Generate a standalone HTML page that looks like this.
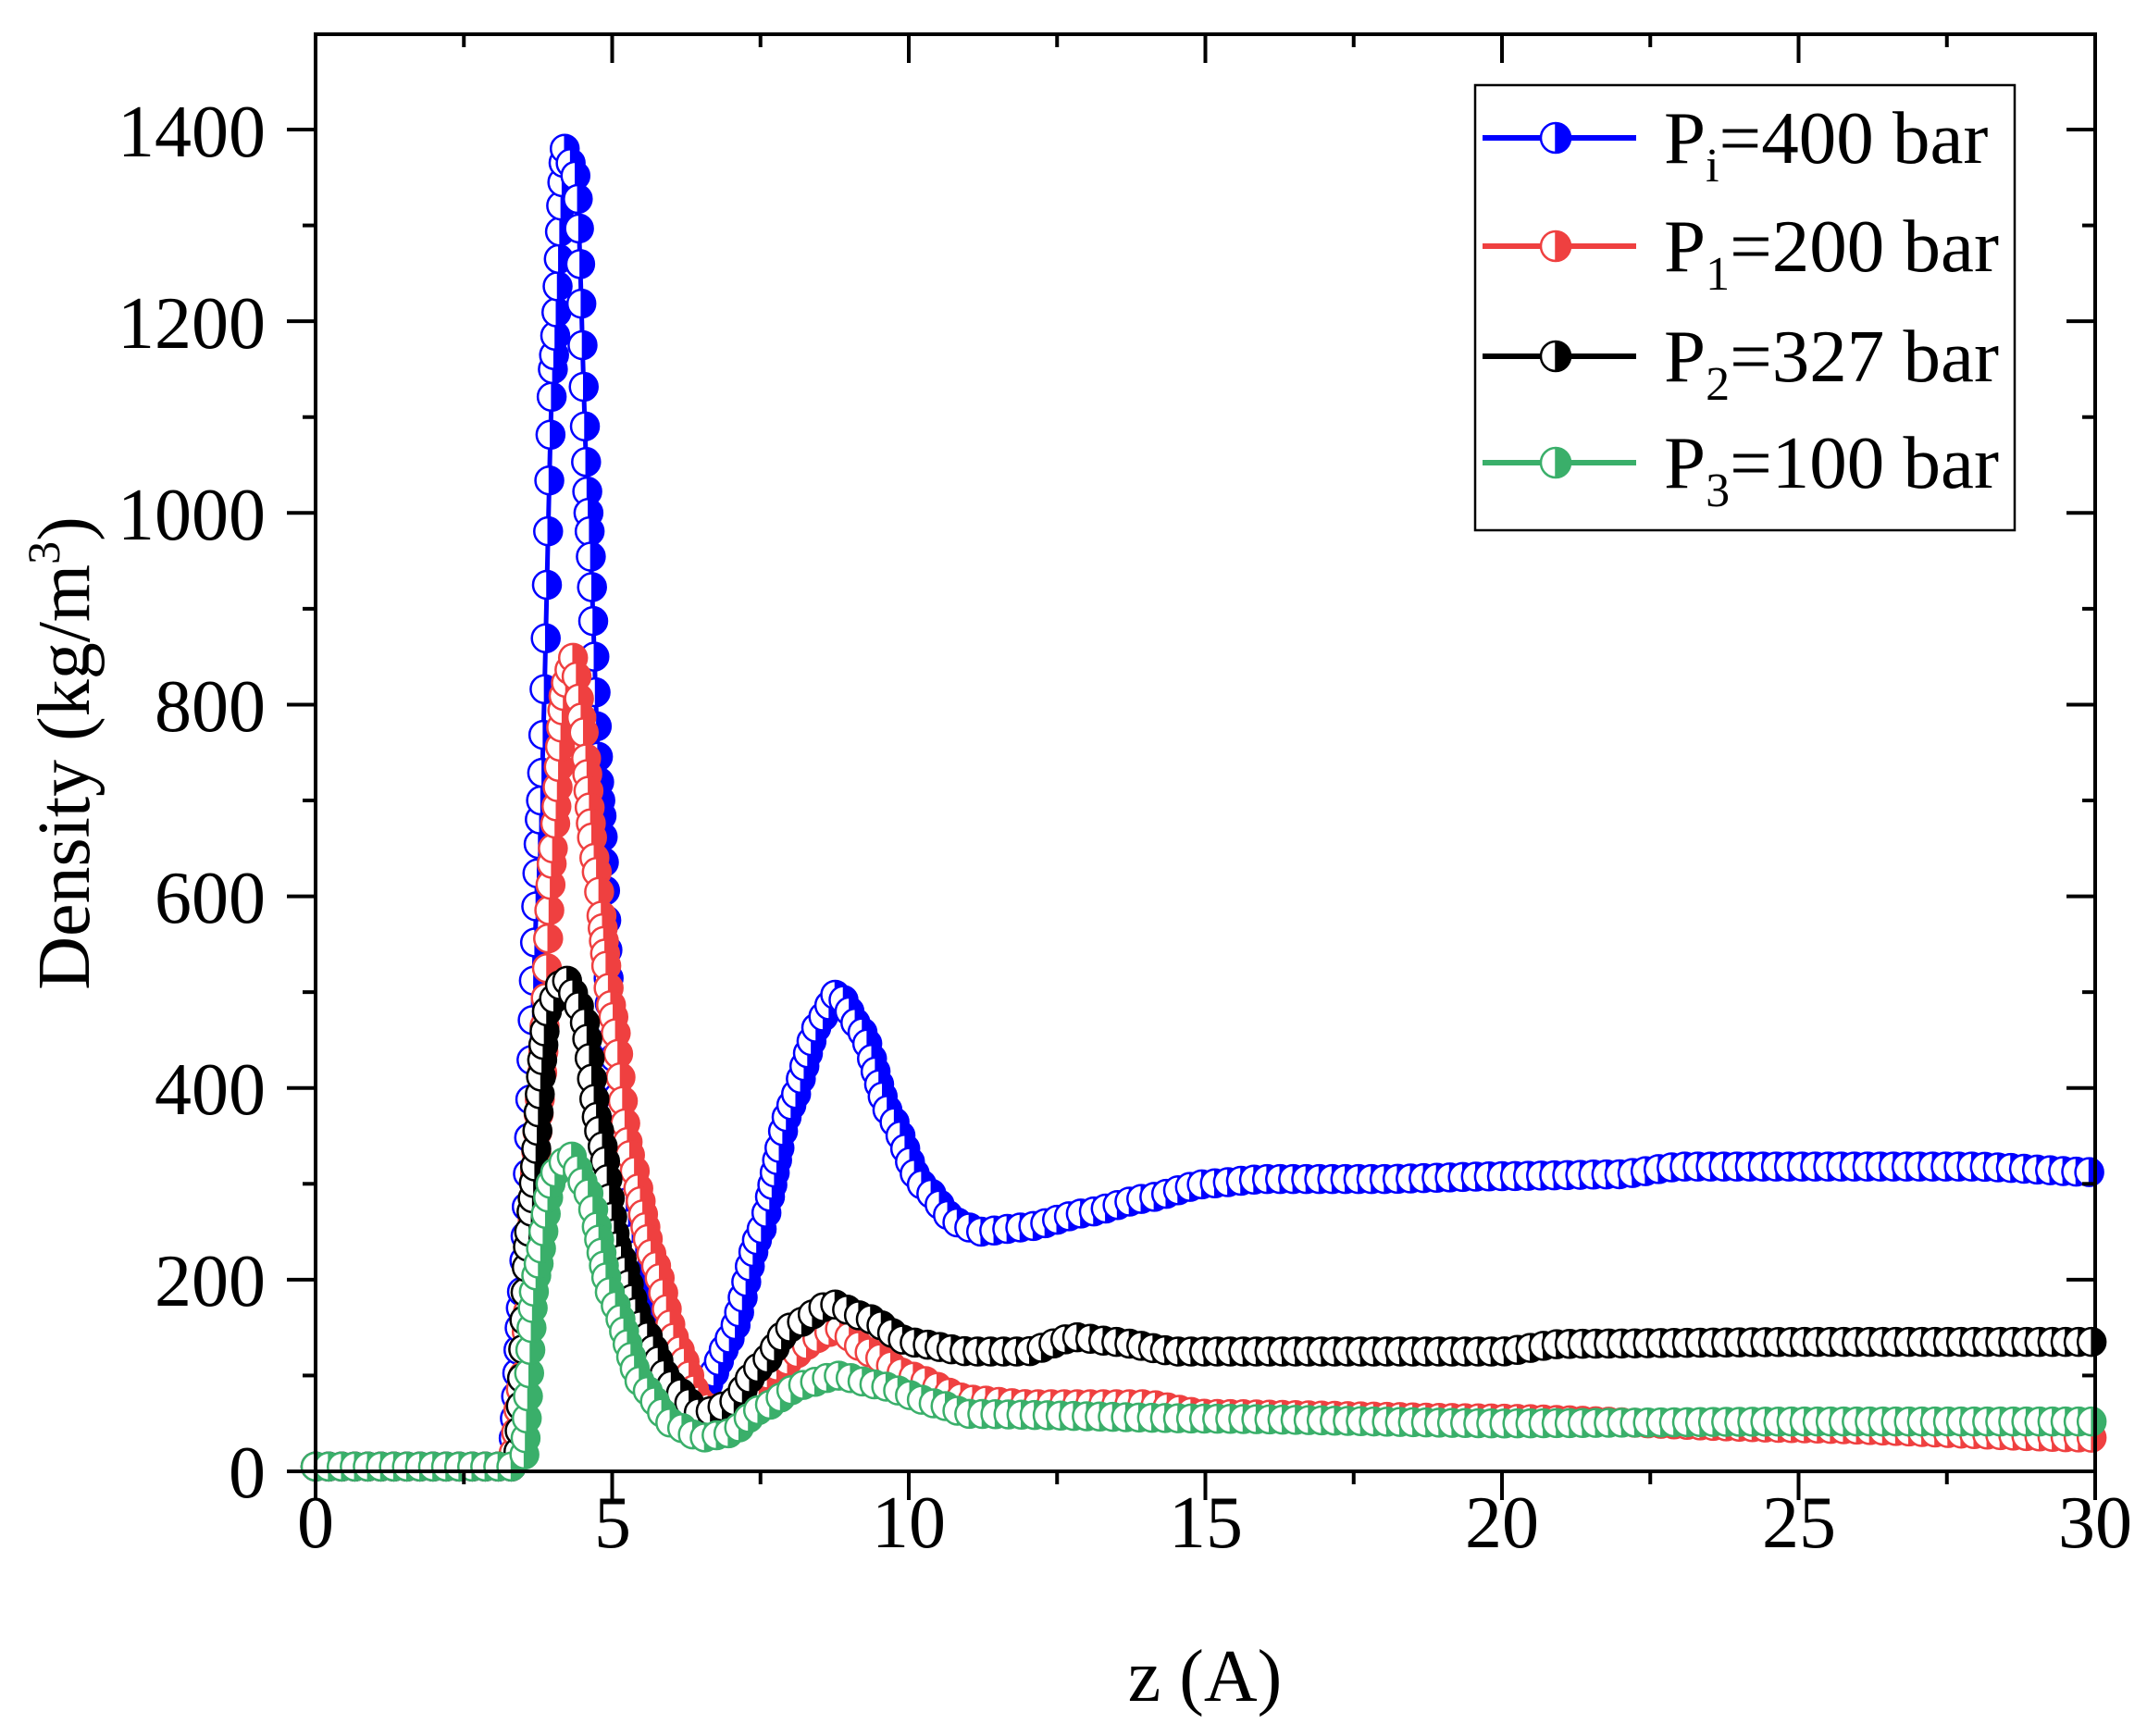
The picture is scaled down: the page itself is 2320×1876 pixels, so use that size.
<!DOCTYPE html>
<html><head><meta charset="utf-8"><style>
html,body{margin:0;padding:0;background:#fff;}
svg{display:block;}
text{font-family:"Liberation Serif",serif;fill:#000;}
</style></head><body>
<svg id="s" width="2320" height="1876" viewBox="0 0 2320 1876" xmlns="http://www.w3.org/2000/svg">
<g id="data"></g>
<rect x="341" y="37" width="1923" height="1553" fill="none" stroke="#000" stroke-width="4"/>
<g id="ticks" stroke="#000" stroke-width="4"></g>
<g font-size="80" text-anchor="end">
<text x="287" y="1618">0</text><text x="287" y="1411">200</text><text x="287" y="1204">400</text>
<text x="287" y="997">600</text><text x="287" y="790">800</text><text x="287" y="583">1000</text>
<text x="287" y="376">1200</text><text x="287" y="169">1400</text>
</g>
<g font-size="80" text-anchor="middle">
<text x="341" y="1672">0</text><text x="662" y="1672">5</text><text x="982" y="1672">10</text>
<text x="1303" y="1672">15</text><text x="1623" y="1672">20</text><text x="1944" y="1672">25</text><text x="2264" y="1672">30</text>
</g>
<text x="1302" y="1838" font-size="80" text-anchor="middle">z (A)</text>
<text transform="translate(96,814) rotate(-90)" font-size="80" text-anchor="middle">Density (kg/m<tspan font-size="50" dy="-32">3</tspan><tspan dy="32">)</tspan></text>
<rect x="1594" y="92" width="583" height="481" fill="#fff" stroke="#000" stroke-width="2.5"/>
<g id="leg"></g>
<g font-size="81">
<text x="1798" y="176">P<tspan font-size="52" dy="20">i</tspan><tspan dy="-20">=400 bar</tspan></text>
<text x="1798" y="293">P<tspan font-size="52" dy="20">1</tspan><tspan dy="-20">=200 bar</tspan></text>
<text x="1798" y="412">P<tspan font-size="52" dy="20">2</tspan><tspan dy="-20">=327 bar</tspan></text>
<text x="1798" y="527">P<tspan font-size="52" dy="20">3</tspan><tspan dy="-20">=100 bar</tspan></text>
</g>
</svg>
<script>
var NS="http://www.w3.org/2000/svg";
function X(z){return 341+z*64.1;}
function Y(r){return 1590-r*1.0357;}
function el(p,t,a){var e=document.createElementNS(NS,t);for(var k in a)e.setAttribute(k,a[k]);p.appendChild(e);return e;}
var T=document.getElementById('ticks');
for(var i=0;i<=12;i++){var z=i*2.5,x=X(z),maj=i%2==0;
 el(T,'line',{x1:x,y1:1590,x2:x,y2:maj?1621:1604});
 el(T,'line',{x1:x,y1:37,x2:x,y2:maj?68:51});}
for(var i=0;i<=14;i++){var r=i*100,y=Y(r),maj=i%2==0;
 el(T,'line',{x1:341,y1:y,x2:maj?310:327,y2:y});
 el(T,'line',{x1:2264,y1:y,x2:maj?2233:2250,y2:y});}
var S=[
 ['#0000ff',[[0,5],[3.3,5],[3.5,200],[3.8,700],[4.0,1150],[4.2,1380],[4.4,1350],[4.6,1000],[4.8,700],[5.0,450],[5.3,250],[5.7,130],[6.2,80],[6.6,90],[7.0,140],[7.5,250],[8.0,380],[8.5,470],[8.8,500],[9.2,460],[9.7,370],[10.2,300],[10.8,260],[11.2,250],[12,255],[13,270],[14,285],[15,300],[16,305],[18,305],[20,308],[22,310],[23,318],[25,318],[28,318],[30,312]]],
 ['#ef4040',[[0,5],[3.3,5],[3.5,100],[3.8,400],[4.0,650],[4.2,820],[4.35,850],[4.5,780],[4.7,640],[5.0,480],[5.3,330],[5.7,220],[6.1,130],[6.5,70],[6.8,60],[7.2,75],[7.8,110],[8.5,140],[8.8,150],[9.3,125],[10,100],[11,75],[12,70],[14,70],[15,60],[20,55],[25,45],[30,35]]],
 ['#000000',[[0,5],[3.4,5],[3.6,250],[3.9,480],[4.2,515],[4.5,480],[4.8,350],[5.1,230],[5.5,150],[6.0,90],[6.5,60],[7,70],[7.5,110],[8.0,150],[8.7,175],[9.3,160],[10,135],[11,125],[12,125],[12.8,140],[13.5,135],[14.5,125],[17,125],[20,125],[21,133],[25,135],[30,135]]],
 ['#3aaf6a',[[0,5],[3.5,5],[3.7,200],[4.0,310],[4.3,330],[4.6,290],[5.0,180],[5.5,90],[6.0,50],[6.5,35],[7.0,40],[7.5,65],[8.2,90],[8.8,100],[9.5,90],[10.5,70],[11,60],[15,55],[20,50],[25,52],[30,52]]]
];
function interp(k,z){for(var i=1;i<k.length;i++){if(z<=k[i][0]){var a=k[i-1],b=k[i],t=(z-a[0])/(b[0]-a[0]);var s=t*t*(3-2*t);t=0.5*t+0.5*s;return a[1]+(b[1]-a[1])*t;}}return k[k.length-1][1];}
function marker(g,x,y,c,r){
 el(g,'circle',{cx:x,cy:y,r:r,fill:'#fff',stroke:c,'stroke-width':2.5});
 el(g,'path',{d:'M'+x+','+(y-r)+' A'+r+','+r+' 0 0 1 '+x+','+(y+r)+' Z',fill:c,stroke:c,'stroke-width':1.5});
}
var D=document.getElementById('data');
S.forEach(function(s){
 var c=s[0],k=s[1],pts=[];
 for(var z=0;z<=30.0001;z+=0.02)pts.push([X(z),Y(interp(k,z))]);
 var d='M'+pts.map(function(p){return p[0].toFixed(1)+','+p[1].toFixed(1);}).join(' L');
 var g=el(D,'g',{});
 el(g,'path',{d:d,fill:'none',stroke:c,'stroke-width':5});
 var acc=100,px=pts[0][0],py=pts[0][1];
 for(var i=0;i<pts.length;i++){var p=pts[i];acc+=Math.hypot(p[0]-px,p[1]-py);px=p[0];py=p[1];
  if(acc>=13){acc=0;marker(g,p[0],p[1],c,15);}}
});
var L=document.getElementById('leg');
[[149,'#0000ff'],[266,'#ef4040'],[385,'#000000'],[500,'#3aaf6a']].forEach(function(r){
 el(L,'line',{x1:1602,y1:r[0],x2:1768,y2:r[0],stroke:r[1],'stroke-width':6});
 marker(L,1681,r[0],r[1],16);
});
</script>
</body></html>
